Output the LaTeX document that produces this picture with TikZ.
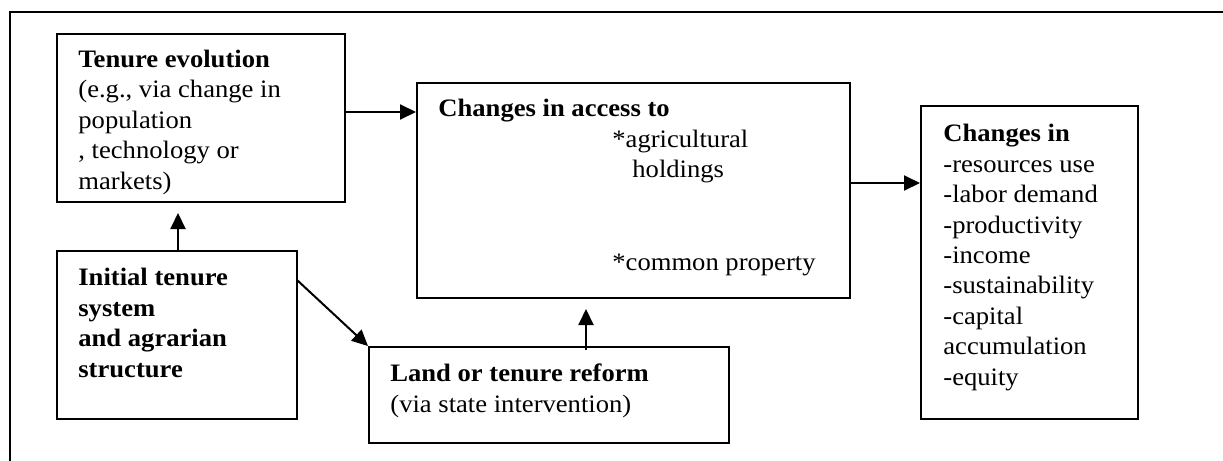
\documentclass[tikz,border=0pt]{standalone}
\usepackage{fontspec}
\setmainfont{Liberation Serif}[FakeStretch=1.06]
\usetikzlibrary{arrows.meta,fit}
\begin{document}
\begin{tikzpicture}[x=0.5pt,y=-0.5pt,
  box/.style={draw,line width=1pt,inner sep=0pt,fit={#1}},
  txt/.style={anchor=base west,inner sep=0pt,align=left,font=\fontsize{12.55pt}{15.2pt}\selectfont},
  arr/.style={line width=1pt,-{Triangle[length=8pt,width=7.5pt]}}]
\useasboundingbox (0,0) rectangle (1223,461);
% outer frame (top and left edges only)
\draw[line width=1pt] (9.5,461) -- (9.5,11.5) -- (1223,11.5);
% boxes
\node[box={(57,34)(345,202)}] (tenure) {};
\node[box={(57,251)(297,419)}] (initial) {};
\node[box={(417,83)(850,298)}] (access) {};
\node[box={(369,347)(729,443)}] (land) {};
\node[box={(921,106)(1138,419)}] (changes) {};
% texts (anchored at the baseline of their last line)
\node[txt] (t1) at (78,189) {\textbf{Tenure evolution}\\(e.g., via change in\\population\\, technology or\\markets)};
\node[txt] (t2) at (78,377) {\textbf{Initial tenure}\\\textbf{system}\\\textbf{and agrarian}\\\textbf{structure}};
\node[txt] (t3) at (438,116) {\textbf{Changes in access to}};
\node[txt] (t4) at (612,147) {*agricultural};
\node[txt] (t5) at (632,177) {holdings};
\node[txt] (t6) at (612,270) {*common property};
\node[txt] (t7) at (390,412) {\textbf{Land or tenure reform}\\(via state intervention)};
\node[txt] (t8) at (943,385) {\textbf{Changes in}\\-resources use\\-labor demand\\-productivity\\-income\\-sustainability\\-capital\\accumulation\\-equity};
% connector anchors
\coordinate (y1) at (0,112);
\coordinate (x2) at (178,0);
\coordinate (x3) at (586,0);
\coordinate (y4) at (0,183);
\coordinate (s5) at (297,280);
% connectors
\draw[arr] (tenure.east |- y1) -- (access.west |- y1);
\draw[arr,shorten >=5pt] (initial.north -| x2) -- (tenure.south -| x2);
\draw[arr] (s5) -- (land.north west);
\draw[arr,shorten >=5pt,shorten <=-2pt] (land.north -| x3) -- (access.south -| x3);
\draw[arr] (access.east |- y4) -- (changes.west |- y4);
\end{tikzpicture}
\end{document}
